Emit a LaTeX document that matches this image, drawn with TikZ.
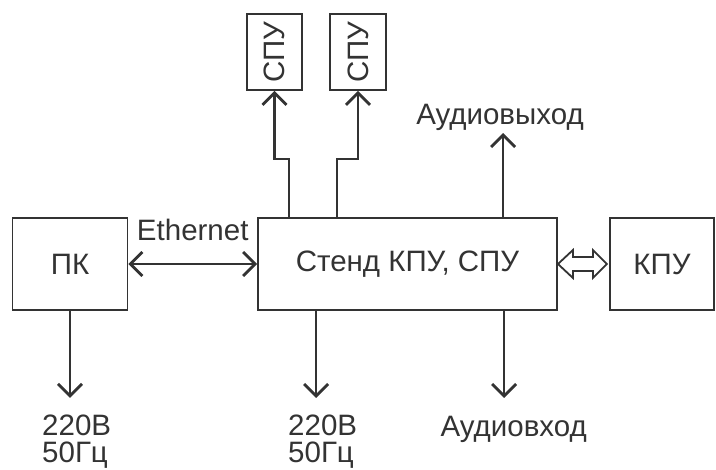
\documentclass[tikz,border=0pt]{standalone}
\usepackage{fontspec}
\setmainfont{Liberation Sans}
\usetikzlibrary{arrows.meta,positioning,calc}
\definecolor{ink}{gray}{0.2}

\begin{document}
\begin{tikzpicture}[x=1pt,y=-1pt,
  every node/.style={font=\fontsize{29.5}{27}\selectfont,text=ink},
  blok/.style={draw=ink,line width=1.9pt,inner sep=0pt},
  arr/.style={draw=ink,line width=2.2pt,-{Straight Barb[length=12pt,width=24pt,line width=2.8pt]}},
  arrs/.style={arr,{Straight Barb[length=12pt,width=24pt,line width=2.8pt]}-{Straight Barb[length=12pt,width=24pt,line width=2.8pt]}}]
\useasboundingbox (0,0) rectangle (716,470);
\node[blok,minimum width=115pt,minimum height=92pt] (pk) at (70,264) {ПК};
\node[blok,minimum width=299pt,minimum height=92pt] (stend) at (407.5,264) {Стенд КПУ, СПУ};
\node[blok,minimum width=104pt,minimum height=92pt] (kpu) at (662,264) {КПУ};
\node[blok,minimum width=76pt,minimum height=55pt,rotate=90] (spu1) at (274.5,52) {СПУ};
\node[blok,minimum width=76pt,minimum height=56pt,rotate=90] (spu2) at (358,52) {СПУ};
\draw[arrs] (pk.east) -- (stend.west) node[midway,above=19pt] {Ethernet};
\draw[arr] ([xshift=32pt]stend.north west) -- ++(0,-58) -| (spu1.west);
\draw[arr] ([xshift=80pt]stend.north west) -- ++(0,-58) -| (spu2.west);
% audio
\node[anchor=base] (aout) at (500,125) {Аудиовыход};
\node[anchor=base west] (ain) at (437,437) {Аудиовход};
\draw[arr] ([xshift=246pt]stend.north west) -- ++(0,-84);
\draw[arr] ([xshift=247pt]stend.south west) -- ++(0,87);
% power
\node[anchor=north west,inner sep=0pt,align=left] (pwr1) at (42,415) {220В\\50Гц};
\node[anchor=north west,inner sep=0pt,align=left] (pwr2) at (288,415) {220В\\50Гц};
\draw[arr] (pk.south) -- ++(0,87);
\draw[arr] ([xshift=59pt]stend.south west) -- ++(0,87);
% link to KPU
\begin{scope}[shift={(stend.east)}]
\draw[draw=ink,line width=1.8pt,line join=miter]
  (0,0) -- (15,-14) -- (15,-7) -- (35,-7) -- (35,-14) -- (49,0)
  -- (35,14) -- (35,7) -- (15,7) -- (15,14) -- cycle;
\end{scope}
\end{tikzpicture}
\end{document}
